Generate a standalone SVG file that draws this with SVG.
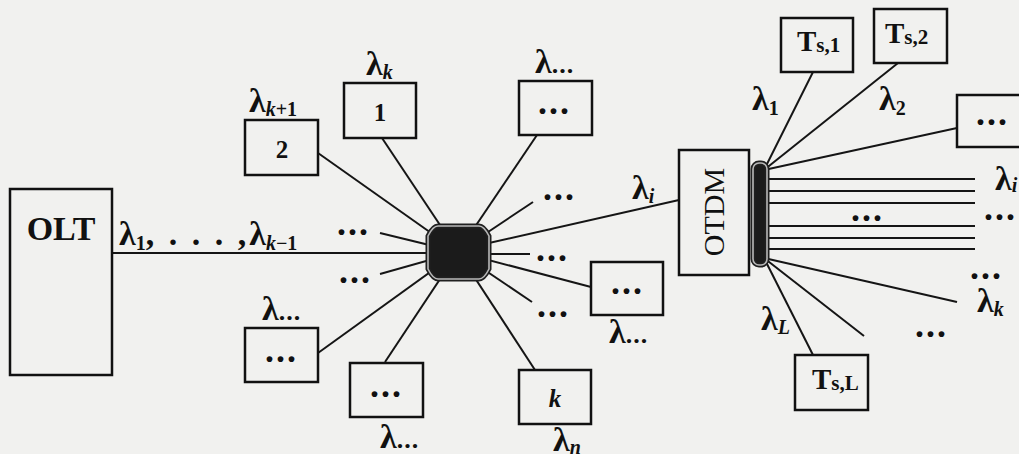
<svg xmlns="http://www.w3.org/2000/svg" width="1019" height="454" viewBox="0 0 1019 454">
  <style>
    .bg { fill: #f1f1ef; }
    .box { fill: none; stroke: #111; stroke-width: 2.5; }
    .ln { stroke: #151515; stroke-width: 2; fill: none; }
    .lam { font-family: "Liberation Serif", serif; font-size: 34px; font-weight: bold; fill: #111; }
    .sub { font-size: 20px; font-weight: bold; }
    .it { font-style: italic; }
    .dots { font-family: "Liberation Serif", serif; font-size: 36px; font-weight: bold; letter-spacing: 2px; fill: #111; }
    .ldots { font-family: "Liberation Serif", serif; font-size: 26px; font-weight: bold; letter-spacing: 1px; fill: #111; }
    .num { font-family: "Liberation Serif", serif; font-size: 25px; font-weight: bold; fill: #111; text-anchor: middle; }
    .ts { font-family: "Liberation Serif", serif; font-size: 29px; font-weight: bold; fill: #111; }
    .tsub { font-size: 21px; }
    .core { fill: #1b1b1b; stroke: #202020; stroke-width: 5; }
    .ring { fill: none; stroke: #b8b8b8; stroke-width: 1.6; }
  </style>

  <rect class="bg" x="0" y="0" width="1019" height="454"/>

  <!-- fibre connectors -->
  <g id="connectors">
    <!-- star coupler spokes -->
    <line class="ln" x1="112" y1="253" x2="458" y2="253" stroke-width="2.6"/>
    <line class="ln" x1="318" y1="153" x2="458" y2="252"/>
    <line class="ln" x1="382" y1="138" x2="458" y2="252"/>
    <line class="ln" x1="380" y1="233" x2="458" y2="252"/>
    <line class="ln" x1="380" y1="274" x2="458" y2="252"/>
    <line class="ln" x1="318" y1="353" x2="458" y2="252"/>
    <line class="ln" x1="385" y1="362" x2="458" y2="252"/>
    <line class="ln" x1="537" y1="135" x2="458" y2="252"/>
    <line class="ln" x1="533" y1="202" x2="458" y2="252"/>
    <line class="ln" x1="679" y1="200" x2="458" y2="250"/>
    <line class="ln" x1="458" y1="254" x2="530" y2="254" stroke-width="2.6"/>
    <line class="ln" x1="591" y1="287" x2="458" y2="252"/>
    <line class="ln" x1="532" y1="302" x2="458" y2="252"/>
    <line class="ln" x1="535" y1="370" x2="458" y2="252"/>

    <!-- demultiplexer outputs -->
    <line class="ln" x1="813" y1="72" x2="764" y2="170"/>
    <line class="ln" x1="898" y1="63" x2="764" y2="170"/>
    <line class="ln" x1="957" y1="128" x2="764" y2="170"/>
    <g class="ln" stroke-width="2.6">
      <line x1="760" y1="179" x2="975" y2="179"/>
      <line x1="760" y1="191" x2="975" y2="191"/>
      <line x1="760" y1="203" x2="975" y2="203"/>
      <line x1="760" y1="226" x2="975" y2="226"/>
      <line x1="760" y1="238" x2="975" y2="238"/>
      <line x1="760" y1="249" x2="975" y2="249"/>
    </g>
    <line class="ln" x1="813" y1="355" x2="764" y2="258"/>
    <line class="ln" x1="864" y1="336" x2="764" y2="258"/>
    <line class="ln" x1="957" y1="302" x2="764" y2="258"/>
  </g>

  <!-- OLT -->
  <g id="olt">
    <rect class="box" x="10" y="189" width="102" height="186"/>
    <text x="61" y="240" text-anchor="middle" font-family="Liberation Serif, serif" font-size="34" font-weight="bold" fill="#111">OLT</text>
  </g>
  <text class="lam" x="119" y="245">λ<tspan class="sub" dy="5">1</tspan><tspan dy="-5" letter-spacing="3">, . . . ,</tspan><tspan>λ</tspan><tspan class="sub" dy="5"><tspan class="it">k</tspan>−1</tspan></text>

  <!-- passive star coupler -->
  <g id="star">
    <path class="core" d="M438,226 H479 Q484,226 489,236 V269 Q484,279 479,279 H438 Q433,279 428,269 V236 Q433,226 438,226 Z"/>
    <path class="ring" d="M438,226 H479 Q484,226 489,236 V269 Q484,279 479,279 H438 Q433,279 428,269 V236 Q433,226 438,226 Z"/>
  </g>

  <!-- ONU 2 -->
  <g id="onu2">
    <rect class="box" x="245" y="120" width="73" height="55"/>
    <text class="num" x="282" y="158">2</text>
    <text class="lam" x="249" y="112">λ<tspan class="sub" dy="4"><tspan class="it">k</tspan>+1</tspan></text>
  </g>

  <!-- ONU 1 -->
  <g id="onu1">
    <rect class="box" x="344" y="83" width="72" height="55"/>
    <text class="num" x="380" y="121">1</text>
    <text class="lam" x="366" y="75">λ<tspan class="sub it" dy="4">k</tspan></text>
  </g>

  <!-- ONU top right -->
  <g id="onu-top">
    <rect class="box" x="519" y="81" width="73" height="54"/>
    <text class="dots" x="538" y="114">...</text>
    <text class="lam" x="535" y="73">λ<tspan class="ldots">...</tspan></text>
  </g>

  <!-- ONU lower left -->
  <g id="onu-ll">
    <rect class="box" x="245" y="328" width="73" height="54"/>
    <text class="dots" x="265" y="362">...</text>
    <text class="lam" x="262" y="320">λ<tspan class="ldots">...</tspan></text>
  </g>

  <!-- ONU bottom -->
  <g id="onu-bottom">
    <rect class="box" x="350" y="363" width="73" height="54"/>
    <text class="dots" x="370" y="397">...</text>
    <text class="lam" x="380" y="448">λ<tspan class="ldots">...</tspan></text>
  </g>

  <!-- ONU right -->
  <g id="onu-right">
    <rect class="box" x="591" y="262" width="72" height="53"/>
    <text class="dots" x="611" y="294">...</text>
    <text class="lam" x="609" y="343">λ<tspan class="ldots">...</tspan></text>
  </g>

  <!-- ONU k -->
  <g id="onu-k">
    <rect class="box" x="519" y="370" width="72" height="54"/>
    <text class="num" x="555" y="407" font-style="italic">k</text>
    <text class="lam" x="553" y="451">λ<tspan class="sub it" dy="3">n</tspan></text>
  </g>

  <!-- OTDM -->
  <g id="otdm">
    <rect class="box" x="679" y="150" width="70" height="125"/>
    <text x="0" y="0" transform="translate(724,212) rotate(-90)" text-anchor="middle" font-family="Liberation Serif, serif" font-size="30" fill="#111">OTDM</text>
  </g>
  <text class="lam" x="632" y="199">λ<tspan class="sub it" dy="4">i</tspan></text>

  <!-- demultiplexer bar -->
  <g id="demux">
    <rect class="core" x="753" y="163" width="14" height="102" rx="6"/>
    <rect class="ring" x="753" y="163" width="14" height="102" rx="6"/>
  </g>

  <!-- time-slot terminals -->
  <g id="ts1">
    <rect class="box" x="781" y="18" width="72" height="54"/>
    <text class="ts" x="797" y="51">T<tspan class="tsub" dy="1">s,1</tspan></text>
  </g>
  <g id="ts2">
    <rect class="box" x="874" y="9" width="73" height="54"/>
    <text class="ts" x="885" y="43">T<tspan class="tsub" dy="1">s,2</tspan></text>
  </g>
  <g id="ts-more">
    <rect class="box" x="957" y="95" width="70" height="52"/>
    <text class="dots" x="976" y="125">...</text>
  </g>
  <g id="tsl">
    <rect class="box" x="795" y="355" width="73" height="55"/>
    <text class="ts" x="812" y="389">T<tspan class="tsub" dy="1">s,L</tspan></text>
  </g>

  <!-- wavelength labels on the demultiplexer side -->
  <text class="lam" x="752" y="110">λ<tspan class="sub" dy="5">1</tspan></text>
  <text class="lam" x="879" y="110">λ<tspan class="sub" dy="5">2</tspan></text>
  <text class="lam" x="761" y="330">λ<tspan class="sub it" dy="4">L</tspan></text>
  <text class="lam" x="977" y="312">λ<tspan class="sub it" dy="4">k</tspan></text>
  <text class="lam" x="995" y="190">λ<tspan class="sub it" dy="2">i</tspan></text>

  <!-- ellipsis marks -->
  <g id="ellipses">
    <text class="dots" x="337" y="235">...</text>
    <text class="dots" x="339" y="283">...</text>
    <text class="dots" x="543" y="200">...</text>
    <text class="dots" x="536" y="261">...</text>
    <text class="dots" x="537" y="317">...</text>
    <text class="dots" x="851" y="221">...</text>
    <text class="dots" x="984" y="220">...</text>
    <text class="dots" x="970" y="279">...</text>
    <text class="dots" x="915" y="337">...</text>
  </g>
</svg>
